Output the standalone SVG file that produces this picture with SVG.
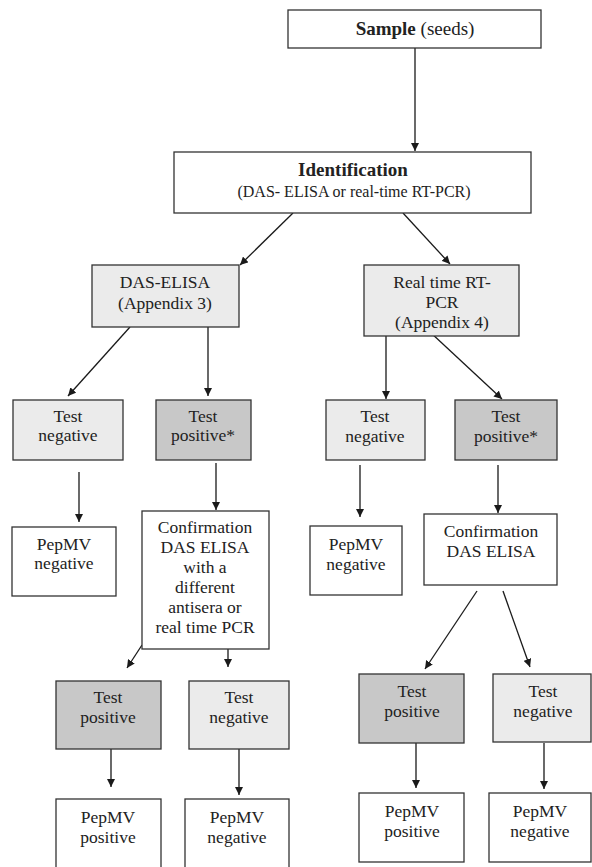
<svg xmlns="http://www.w3.org/2000/svg" width="592" height="867" viewBox="0 0 592 867">
<defs>
<marker id="ah" viewBox="0 0 10 10" refX="10" refY="5" markerWidth="8" markerHeight="8" markerUnits="userSpaceOnUse" orient="auto">
<path d="M0,0 L10,5 L0,10 z" fill="#1a1a1a"/>
</marker>
<style>
.box{stroke:#333;stroke-width:1.3;fill:#fff}
.lt{fill:#ebebeb}
.dk{fill:#c8c8c8}
text{font-family:"Liberation Serif","Times New Roman",serif;font-size:17.5px;fill:#222;text-anchor:middle}
.b{font-weight:bold}
.c line{stroke:#1a1a1a;stroke-width:1.3;marker-end:url(#ah)}
</style>
</defs>
<rect width="592" height="867" fill="#fff"/>
<g class="c" id="connectors">
<line x1="415" y1="48" x2="415" y2="151"/>
<line x1="293" y1="213" x2="240" y2="265"/>
<line x1="403" y1="213" x2="450" y2="264"/>
<line x1="130" y1="327" x2="68" y2="396"/>
<line x1="208" y1="327" x2="208" y2="396"/>
<line x1="386" y1="333" x2="386" y2="399"/>
<line x1="430" y1="332" x2="502" y2="399"/>
<line x1="79" y1="472" x2="79" y2="522"/>
<line x1="216" y1="463" x2="216" y2="510"/>
<line x1="360" y1="465" x2="360" y2="517"/>
<line x1="498" y1="465" x2="498" y2="513"/>
<line x1="142" y1="645" x2="127" y2="668"/>
<line x1="228" y1="643" x2="228" y2="667"/>
<line x1="477" y1="591" x2="425" y2="669"/>
<line x1="503" y1="591" x2="530" y2="667"/>
<line x1="111" y1="742" x2="111" y2="787"/>
<line x1="239" y1="749" x2="239" y2="795"/>
<line x1="416" y1="743" x2="416" y2="788"/>
<line x1="544" y1="743" x2="544" y2="789"/>
</g>
<g id="sample"><rect class="box" x="288" y="10" width="253" height="38"/><text x="415" y="35" style="font-size:19px"><tspan class="b">Sample</tspan> (seeds)</text></g>
<g id="identification"><rect class="box" x="174" y="152" width="357" height="61"/><text class="b" x="353" y="176" style="font-size:19px">Identification</text><text x="354" y="197" style="font-size:16px">(DAS- ELISA or real-time RT-PCR)</text></g>
<g id="das-elisa"><rect class="box lt" x="92" y="265" width="147" height="62"/><text x="165" y="288">DAS-ELISA</text><text x="165" y="309">(Appendix 3)</text></g>
<g id="rt-pcr"><rect class="box lt" x="364" y="265" width="155" height="71"/><text x="442" y="288">Real time RT-</text><text x="442" y="308">PCR</text><text x="442" y="328">(Appendix 4)</text></g>
<g id="test-neg-1"><rect class="box lt" x="13" y="400" width="110" height="60"/><text x="68" y="422">Test</text><text x="68" y="441">negative</text></g>
<g id="test-pos-1"><rect class="box dk" x="156" y="400" width="95" height="60"/><text x="203" y="422">Test</text><text x="203" y="441">positive*</text></g>
<g id="pepmv-neg-1"><rect class="box" x="12" y="527" width="104" height="69"/><text x="64" y="550">PepMV</text><text x="64" y="569">negative</text></g>
<g id="confirm-1"><rect class="box" x="142" y="511" width="127" height="138"/><text x="205" y="533">Confirmation</text><text x="205" y="553">DAS ELISA</text><text x="205" y="573">with a</text><text x="205" y="593">different</text><text x="205" y="613">antisera or</text><text x="205" y="633">real time PCR</text></g>
<g id="test-neg-2"><rect class="box lt" x="326" y="400" width="99" height="60"/><text x="375" y="422">Test</text><text x="375" y="442">negative</text></g>
<g id="test-pos-2"><rect class="box dk" x="455" y="400" width="102" height="60"/><text x="506" y="422">Test</text><text x="506" y="442">positive*</text></g>
<g id="pepmv-neg-2"><rect class="box" x="310" y="526" width="92" height="69"/><text x="356" y="550">PepMV</text><text x="356" y="570">negative</text></g>
<g id="confirm-2"><rect class="box" x="424" y="514" width="133" height="71"/><text x="491" y="537">Confirmation</text><text x="491" y="557">DAS ELISA</text></g>
<g id="test-pos-3"><rect class="box dk" x="56" y="681" width="105" height="68"/><text x="108" y="703">Test</text><text x="108" y="723">positive</text></g>
<g id="test-neg-3"><rect class="box lt" x="189" y="681" width="100" height="68"/><text x="239" y="703">Test</text><text x="239" y="723">negative</text></g>
<g id="pepmv-pos-3"><rect class="box" x="56" y="799" width="105" height="80"/><text x="108" y="823">PepMV</text><text x="108" y="843">positive</text></g>
<g id="pepmv-neg-3"><rect class="box" x="185" y="799" width="104" height="80"/><text x="237" y="823">PepMV</text><text x="237" y="843">negative</text></g>
<g id="test-pos-4"><rect class="box dk" x="359" y="674" width="105" height="69"/><text x="412" y="697">Test</text><text x="412" y="717">positive</text></g>
<g id="test-neg-4"><rect class="box lt" x="493" y="674" width="98" height="68"/><text x="543" y="697">Test</text><text x="543" y="717">negative</text></g>
<g id="pepmv-pos-4"><rect class="box" x="359" y="793" width="105" height="69"/><text x="412" y="817">PepMV</text><text x="412" y="837">positive</text></g>
<g id="pepmv-neg-4"><rect class="box" x="489" y="793" width="102" height="69"/><text x="540" y="817">PepMV</text><text x="540" y="837">negative</text></g>
</svg>
